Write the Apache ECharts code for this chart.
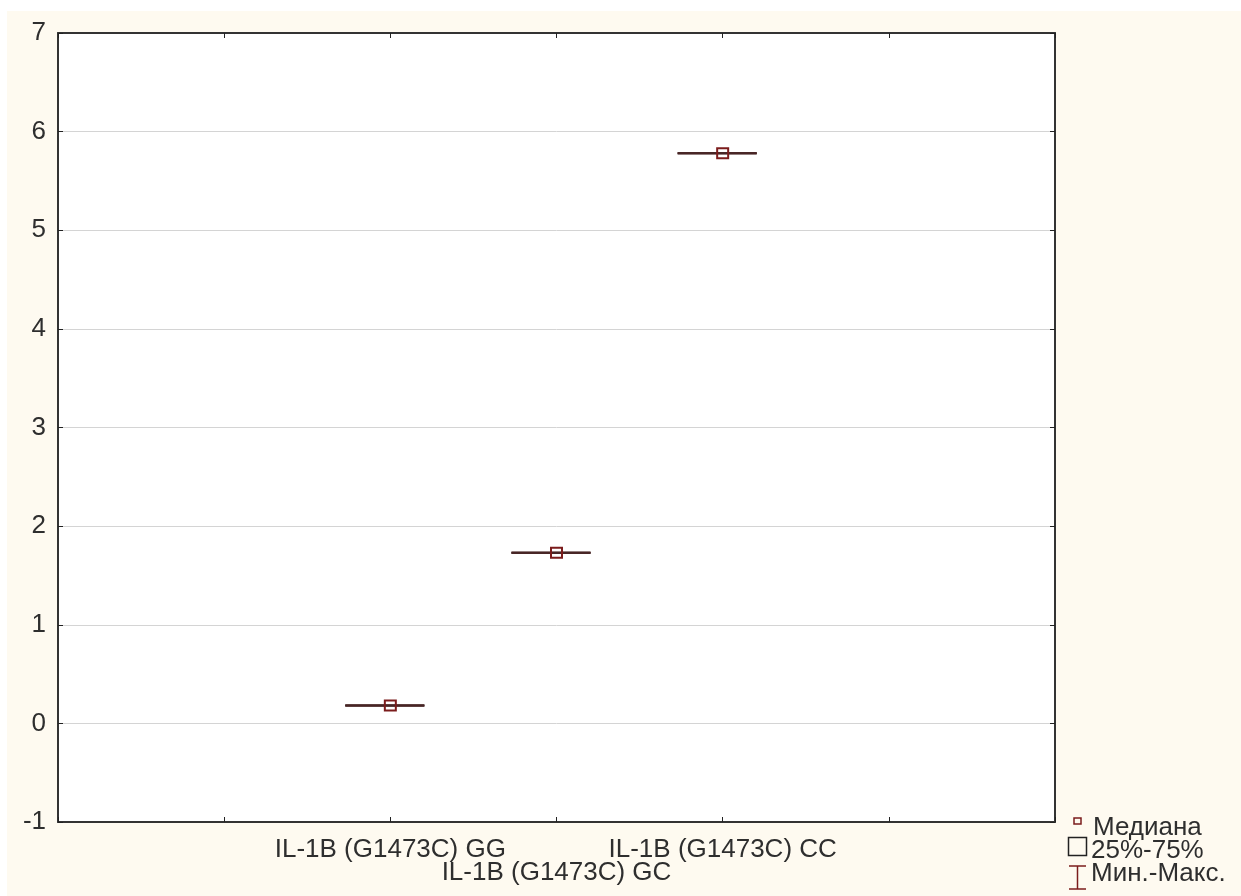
<!DOCTYPE html>
<html>
<head>
<meta charset="utf-8">
<style>
  html, body { margin: 0; padding: 0; background: #ffffff; }
  #chart { width: 1241px; height: 896px; }
</style>
<script src="https://cdn.jsdelivr.net/npm/echarts@6/dist/echarts.min.js"></script>
</head>
<body>
<div id="chart"></div>
<script>
// ---- data ----
const categories = ['IL-1B (G1473C) GG', 'IL-1B (G1473C) GC', 'IL-1B (G1473C) CC'];
const medians = [0.18, 1.73, 5.78];
const q25 = [0.18, 1.73, 5.78];
const q75 = [0.18, 1.73, 5.78];
const mins = [0.18, 1.73, 5.78];
const maxs = [0.18, 1.73, 5.78];
const yTicks = [-1, 0, 1, 2, 3, 4, 5, 6, 7];
const legendLabels = ['Медиана', '25%-75%', 'Мин.-Макс.'];

const FONT = '"Liberation Sans", Arial, sans-serif';
const TEXT = '#2e2e2e';
const MAROON = '#7b1c1c';
const LINE = '#472525';

// category i sits at axis position i + 2 on a 0..6 scale
const catPos = categories.map((c, i) => i + 2);
const seriesData = categories.map((c, i) => [catPos[i], medians[i], q25[i], q75[i], mins[i], maxs[i]]);

const chart = echarts.init(document.getElementById('chart'), null, { renderer: 'canvas' });

const gridL = 58, gridT = 33, gridR = 1055, gridB = 822;

const option = {
  animation: false,
  backgroundColor: 'transparent',
  textStyle: { fontFamily: FONT },
  grid: {
    left: gridL, top: gridT, right: 1241 - gridR, bottom: 896 - gridB,
    show: true, backgroundColor: '#ffffff', borderColor: '#333', borderWidth: 0
  },
  xAxis: [
    {
      type: 'value', min: 0, max: 6, interval: 1, position: 'bottom',
      axisLine: { show: true, onZero: false, lineStyle: { color: '#333', width: 2 } },
      axisTick: { show: true, inside: true, length: 5, lineStyle: { color: '#222', width: 1 } },
      splitLine: { show: false },
      axisLabel: {
        show: true, margin: 16, fontSize: 26, fontFamily: FONT, color: TEXT,
        lineHeight: 23, verticalAlign: 'top',
        formatter: function (v) {
          const i = catPos.indexOf(v);
          if (i < 0) return '';
          return (i % 2 === 1 ? '\n' : '') + categories[i];
        }
      }
    },
    {
      type: 'value', min: 0, max: 6, interval: 1, position: 'top',
      axisLine: { show: true, onZero: false, lineStyle: { color: '#333', width: 2 } },
      axisTick: { show: true, inside: true, length: 5, lineStyle: { color: '#222', width: 1 } },
      splitLine: { show: false },
      axisLabel: { show: false }
    }
  ],
  yAxis: [
    {
      type: 'value', min: yTicks[0], max: yTicks[yTicks.length - 1], interval: 1, position: 'left',
      axisLine: { show: true, onZero: false, lineStyle: { color: '#333', width: 2 } },
      axisTick: { show: true, inside: true, length: 5, lineStyle: { color: '#222', width: 1 } },
      splitLine: { show: true, lineStyle: { color: '#d4d4d4', width: 1 } },
      axisLabel: { show: true, margin: 12, fontSize: 26, fontFamily: FONT, color: TEXT }
    },
    {
      type: 'value', min: yTicks[0], max: yTicks[yTicks.length - 1], interval: 1, position: 'right',
      axisLine: { show: true, onZero: false, lineStyle: { color: '#333', width: 2 } },
      axisTick: { show: true, inside: true, length: 5, lineStyle: { color: '#222', width: 1 } },
      splitLine: { show: false },
      axisLabel: { show: false }
    }
  ],
  graphic: [
    // cream page background
    { type: 'rect', z: -100, silent: true, shape: { x: 7, y: 11, width: 1234, height: 885 }, style: { fill: '#fefaf0' } },
    // legend: median marker
    { type: 'rect', shape: { x: 1074, y: 818, width: 7, height: 6 }, style: { fill: 'none', stroke: MAROON, lineWidth: 1.5 } },
    { type: 'text', left: 1093, top: 815, style: { text: legendLabels[0], font: '26px ' + FONT, fill: TEXT, textVerticalAlign: 'top' } },
    // legend: box
    { type: 'rect', shape: { x: 1068.5, y: 837.5, width: 18, height: 18 }, style: { fill: 'none', stroke: '#222', lineWidth: 1.5 } },
    { type: 'text', left: 1091, top: 838, style: { text: legendLabels[1], font: '26px ' + FONT, fill: TEXT, textVerticalAlign: 'top' } },
    // legend: whisker
    { type: 'line', shape: { x1: 1069, y1: 866, x2: 1086, y2: 866 }, style: { stroke: MAROON, lineWidth: 1.5 } },
    { type: 'line', shape: { x1: 1077.5, y1: 866, x2: 1077.5, y2: 889 }, style: { stroke: MAROON, lineWidth: 1.5 } },
    { type: 'line', shape: { x1: 1069, y1: 889, x2: 1086, y2: 889 }, style: { stroke: MAROON, lineWidth: 1.5 } },
    { type: 'text', left: 1091, top: 861, style: { text: legendLabels[2], font: '26px ' + FONT, fill: TEXT, textVerticalAlign: 'top' } }
  ],
  series: [
    {
      type: 'custom',
      xAxisIndex: 0, yAxisIndex: 0,
      data: seriesData,
      encode: { x: 0, y: [1, 2, 3, 4, 5] },
      renderItem: function (params, api) {
        const x = api.value(0);
        const c = api.coord([x, api.value(1)]);
        const p25 = api.coord([x, api.value(2)]);
        const p75 = api.coord([x, api.value(3)]);
        const pMin = api.coord([x, api.value(4)]);
        const pMax = api.coord([x, api.value(5)]);
        const L = 45, R = 34;
        const st = { stroke: LINE, lineWidth: 2, fill: 'none' };
        return {
          type: 'group',
          children: [
            { type: 'line', shape: { x1: c[0], y1: pMin[1], x2: c[0], y2: pMax[1] }, style: st },
            { type: 'line', shape: { x1: c[0] - L, y1: pMin[1], x2: c[0] + R, y2: pMin[1] }, style: st },
            { type: 'line', shape: { x1: c[0] - L, y1: pMax[1], x2: c[0] + R, y2: pMax[1] }, style: st },
            { type: 'rect', shape: { x: c[0] - L, y: p75[1], width: L + R, height: p25[1] - p75[1] }, style: st },
            { type: 'rect', shape: { x: c[0] - 5.5, y: c[1] - 5, width: 11, height: 10 }, style: { stroke: MAROON, lineWidth: 2, fill: 'none' } }
          ]
        };
      }
    }
  ]
};

chart.setOption(option);
</script>
</body>
</html>
